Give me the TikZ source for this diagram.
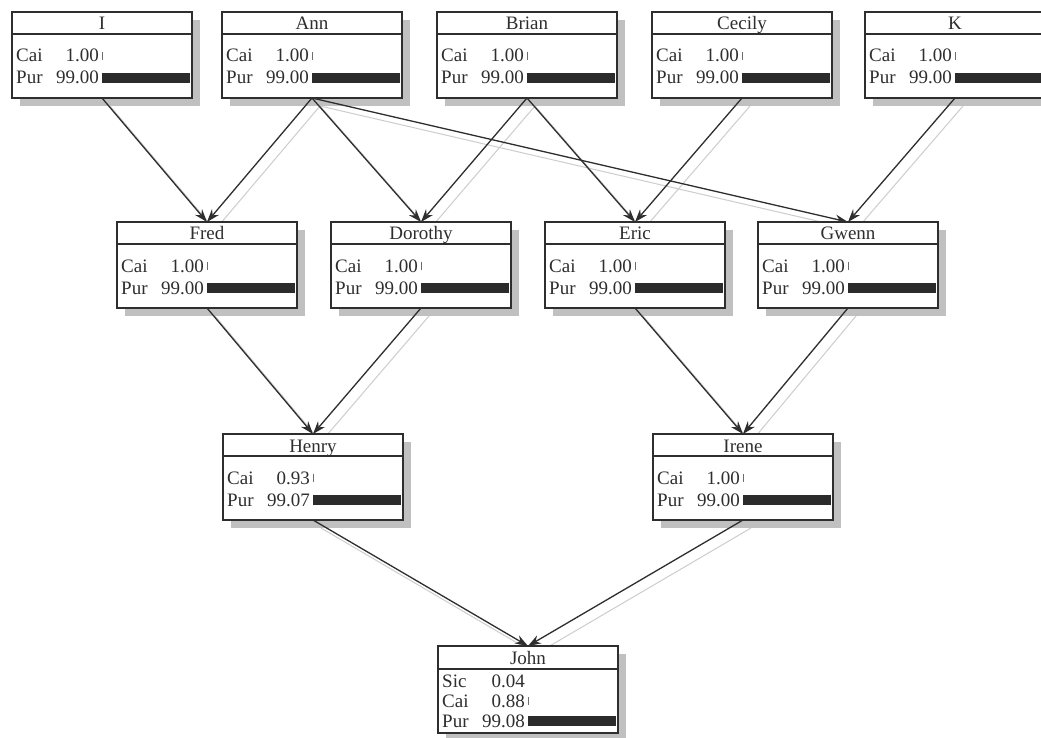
\documentclass[tikz,border=0pt]{standalone}
\usepackage{fontspec}
\setmainfont{Liberation Serif}
\usetikzlibrary{arrows.meta}
\definecolor{ink}{HTML}{2E2E2E}
\definecolor{shad}{HTML}{C0C0C0}
\definecolor{lshad}{HTML}{CDCDCD}
\definecolor{barc}{HTML}{2B2B2B}
\pgfdeclarelayer{bglayer}
\pgfdeclarelayer{lshadowlayer}
\pgfdeclarelayer{bshadowlayer}
\pgfdeclarelayer{edgelayer}
\pgfsetlayers{bglayer,lshadowlayer,bshadowlayer,edgelayer,main}
\tikzset{
  bnbox/.style={draw=ink, line width=1.2pt, fill=white, minimum width=180pt,
    inner sep=0pt, outer sep=0pt, anchor=north west},
  txt/.style={font=\fontsize{19}{20}\selectfont, text=ink, inner sep=0pt},
  bnedge/.style={draw=ink, line width=1.3pt, -{Stealth[length=13pt,width=9pt]}},
  bnedgeshadow/.style={draw=lshad, line width=1pt},
  hdrline/.style={draw=ink, line width=1.2pt},
  tickline/.style={draw=ink!70, line width=0.9pt},
}
% box: name, left, top, height, header height, title
\newcommand\BNbox[6]{%
  \node[bnbox, minimum height=#4pt] (#1) at (#2,#3) {};
  \begin{pgfonlayer}{bshadowlayer}
    \fill[shad] ([shift={(8pt,-8pt)}]#1.north west) rectangle ([shift={(8pt,-8pt)}]#1.south east);
  \end{pgfonlayer}
  \draw[hdrline] ([yshift=-#5pt]#1.north west) -- ([yshift=-#5pt]#1.north east);
  \node[txt, anchor=base] at ([yshift=-18pt]#1.north) {#6};
}
% row: name, row centre offset, label, value
\newcommand\BNrow[4]{%
  \node[txt, anchor=base west] at ([shift={(4pt,{-(#2+6)*1pt})}]#1.north west) {#3};
  \node[txt, anchor=base east] at ([shift={(87pt,{-(#2+6)*1pt})}]#1.north west) {#4};
}
% bar: name, row centre offset, length
\newcommand\BNbar[3]{%
  \fill[barc] ([shift={(90pt,{-(#2-5)*1pt})}]#1.north west) rectangle ++(#3pt,-10pt);
}
% tick: name, row centre offset
\newcommand\BNtick[2]{%
  \draw[tickline] ([shift={(90.5pt,{-(#2-4)*1pt})}]#1.north west) -- ++(0pt,-8pt);
}
\newcommand\BNedge[2]{%
  \begin{pgfonlayer}{edgelayer}
    \draw[bnedge] (#1.south) -- (#2.north);
  \end{pgfonlayer}
  \begin{pgfonlayer}{lshadowlayer}
    \draw[bnedgeshadow] ([shift={(8pt,-8pt)}]#1.south) -- ([shift={(8pt,-8pt)}]#2.north);
  \end{pgfonlayer}
}
% standard two-row box: name, left, top, title, cai, pur, purbar
\newcommand\BNstd[7]{%
  \BNbox{#1}{#2}{#3}{86}{22}{#4}
  \BNrow{#1}{44}{Cai}{#5}
  \BNrow{#1}{66}{Pur}{#6}
  \BNtick{#1}{44}
  \BNbar{#1}{66}{#7}
}
\begin{document}
\begin{tikzpicture}[x=1pt,y=-1pt]
\useasboundingbox (0,0) rectangle (1041,738);
\begin{pgfonlayer}{bglayer}
\fill[white] (0,0) rectangle (1041,738);
\end{pgfonlayer}
% top row
\BNstd{i}{12}{12}{I}{1.00}{99.00}{88}
\BNstd{ann}{222}{12}{Ann}{1.00}{99.00}{88}
\BNstd{brian}{437}{12}{Brian}{1.00}{99.00}{88}
\BNstd{cecily}{652}{12}{Cecily}{1.00}{99.00}{88}
\BNstd{k}{865}{12}{K}{1.00}{99.00}{88}
% second row
\BNstd{fred}{117}{222}{Fred}{1.00}{99.00}{88}
\BNstd{dorothy}{331}{222}{Dorothy}{1.00}{99.00}{88}
\BNstd{eric}{545}{222}{Eric}{1.00}{99.00}{88}
\BNstd{gwenn}{758}{222}{Gwenn}{1.00}{99.00}{88}
% third row
\BNstd{henry}{223}{434}{Henry}{0.93}{99.07}{88.1}
\BNstd{irene}{653}{434}{Irene}{1.00}{99.00}{88}
% John
\BNbox{john}{438}{646}{87}{23}{John}
\BNrow{john}{35}{Sic}{0.04}
\BNrow{john}{55}{Cai}{0.88}
\BNrow{john}{75}{Pur}{99.08}
\BNtick{john}{55}
\BNbar{john}{75}{88.1}
% edges
\BNedge{i}{fred}
\BNedge{ann}{fred}
\BNedge{ann}{dorothy}
\BNedge{ann}{gwenn}
\BNedge{brian}{dorothy}
\BNedge{brian}{eric}
\BNedge{cecily}{eric}
\BNedge{k}{gwenn}
\BNedge{fred}{henry}
\BNedge{dorothy}{henry}
\BNedge{eric}{irene}
\BNedge{gwenn}{irene}
\BNedge{henry}{john}
\BNedge{irene}{john}
\end{tikzpicture}
\end{document}
